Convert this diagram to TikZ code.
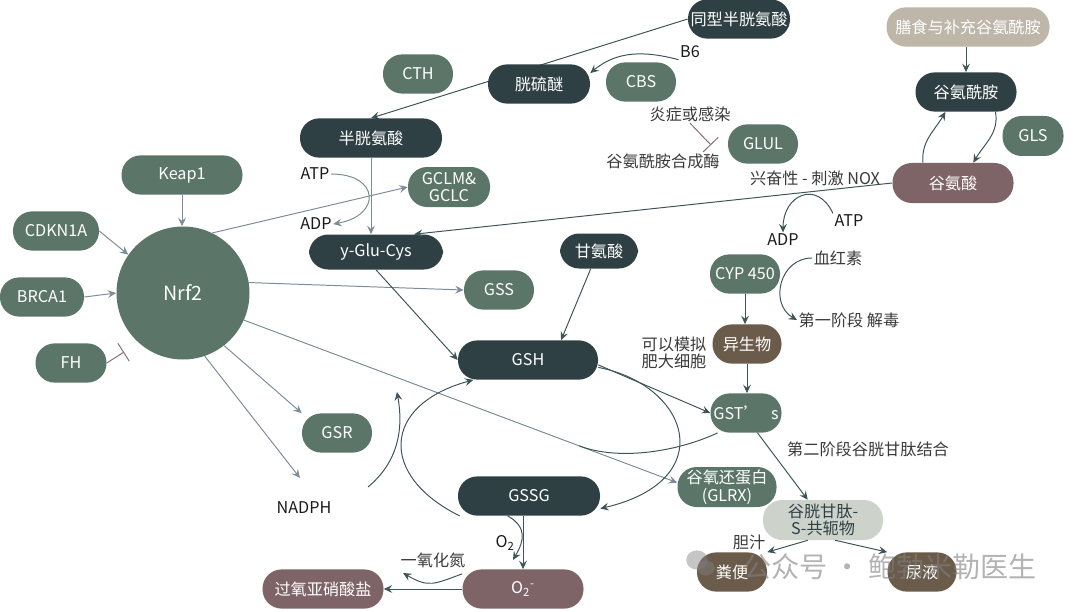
\documentclass[tikz,border=0pt]{standalone}
\usepackage{fontspec}
\setmainfont{Noto Sans CJK SC}
\usepackage{xcolor}
\usepackage{tikz}
\usetikzlibrary{
    arrows.meta,
    backgrounds,
    calc
}
\definecolor{cDark}{RGB}{47,64,69}
\definecolor{cGreen}{RGB}{91,117,104}
\definecolor{cMauve}{RGB}{126,99,103}
\definecolor{cBrown}{RGB}{107,91,75}
\definecolor{cBeige}{RGB}{189,182,169}
\definecolor{cLight}{RGB}{205,210,203}
\definecolor{cLine}{RGB}{125,140,154}
\definecolor{cFlow}{RGB}{62,84,87}
\definecolor{cSoft}{RGB}{122,143,140}
\definecolor{cInhib}{RGB}{142,108,114}
\definecolor{cInk}{RGB}{26,26,26}
\definecolor{cNote}{RGB}{58,58,58}
\newcommand{\nodefont}{\fontsize{11.5}{12.5}\selectfont}

\begin{document}
\begin{tikzpicture}[
		>={Stealth[length=6pt, width=5.5pt, inset=2.2pt]},
		pill/.style={rectangle, rounded corners=0.48cm, minimum height=0.98cm, inner sep=1pt, text=white, font=\nodefont, align=center},
		darkbox/.style={pill, fill=cDark},
		greenbox/.style={pill, fill=cGreen},
		mauvebox/.style={pill, fill=cMauve},
		brownbox/.style={pill, fill=cBrown},
		beigebox/.style={pill, fill=cBeige},
		lightbox/.style={pill, fill=cLight, text=cDark},
		lbl/.style={font=\nodefont, text=cInk, inner sep=1pt, align=center},
		note/.style={lbl, text=cNote},
		nrfline/.style={draw=cLine, line width=0.7pt, ->},
		flow/.style={draw=cFlow, line width=0.7pt, ->},
		soft/.style={draw=cSoft, line width=0.7pt, ->},
		inhib/.style={draw=cInhib, line width=0.7pt, -{Bar[width=15pt]}}
	]
		\useasboundingbox (0,0) rectangle (27,-15.275);
		\node [darkbox, minimum width=2.55cm] (hcy) at (18.475,-0.475) {同型半胱氨酸};
		\node [lbl] (b6) at (17.25,-1.3) {B6};
		\node [darkbox, minimum width=2.55cm] (cyst) at (13.475,-2.1) {胱硫醚};
		\node [greenbox, minimum width=1.75cm] (cbs) at (16.025,-2.05) {CBS};
		\node [greenbox, minimum width=1.75cm] (cth) at (10.45,-1.85) {CTH};
		\node [darkbox, minimum width=3.55cm] (cys) at (9.275,-3.45) {半胱氨酸};
		\node [lbl] (atpL) at (7.875,-4.35) {ATP};
		\node [lbl] (adpL) at (7.9,-5.6) {ADP};
		\node [greenbox, minimum width=2.05cm, minimum height=1.0cm] (gcl) at (11.225,-4.675) {GCLM\&\\GCLC};
		\node [darkbox, minimum width=3.35cm, minimum height=0.875cm] (ygc) at (9.4,-6.3) {y-Glu-Cys};
		\node [darkbox, minimum width=1.95cm, minimum height=0.875cm] (gly) at (14.975,-6.275) {甘氨酸};
		\node [greenbox, minimum width=1.75cm] (gss) at (12.475,-7.25) {GSS};
		\node [greenbox, minimum width=3.025cm] (keap1) at (4.55,-4.375) {Keap1};
		\node [greenbox, minimum width=2.15cm] (cdkn) at (1.4,-5.775) {CDKN1A};
		\node [greenbox, minimum width=2.1cm] (brca) at (1.05,-7.425) {BRCA1};
		\node [greenbox, minimum width=1.775cm] (fh) at (1.775,-9.075) {FH};
		\node [circle, fill=cGreen, minimum size=3.325cm, inner sep=0pt, text=white, font=\fontsize{14}{16}\selectfont] (nrf2) at (4.575,-7.325) {Nrf2};
		\node [greenbox, minimum width=1.75cm] (gsr) at (8.425,-10.825) {GSR};
		\node [lbl] (nadph) at (7.6,-12.7) {NADPH};
		\node [darkbox, minimum width=3.5cm] (gsh) at (13.2,-9.0) {GSH};
		\node [darkbox, minimum width=3.55cm] (gssg) at (13.225,-12.4) {GSSG};
		\node [mauvebox, minimum width=3.025cm] (o2m) at (13.075,-14.725) {O\textsubscript{2}\textsuperscript{-}};
		\node [mauvebox, minimum width=3.025cm] (onoo) at (8.075,-14.725) {过氧亚硝酸盐};
		\node [note] (no) at (10.825,-14.0) {一氧化氮};
		\node [lbl] (o2) at (12.625,-13.575) {O\textsubscript{2}};
		\node [beigebox, minimum width=4.075cm] (diet) at (24.2,-0.675) {膳食与补充谷氨酰胺};
		\node [darkbox, minimum width=2.525cm] (gln) at (24.15,-2.3) {谷氨酰胺};
		\node [greenbox, minimum width=1.525cm, minimum height=1.0cm] (gls) at (25.825,-3.4) {GLS};
		\node [mauvebox, minimum width=3.025cm, minimum height=1.0cm] (glu) at (23.825,-4.575) {谷氨酸};
		\node [greenbox, minimum width=1.75cm] (glul) at (19.075,-3.6) {GLUL};
		\node [note] (inflam) at (17.25,-2.85) {炎症或感染};
		\node [note] (gs) at (16.575,-4.025) {谷氨酰胺合成酶};
		\node [note] (nox) at (20.375,-4.45) {兴奋性 - 刺激 NOX};
		\node [lbl] (atpR) at (21.225,-5.525) {ATP};
		\node [lbl] (adpR) at (19.575,-6.0) {ADP};
		\node [greenbox, minimum width=1.75cm] (cyp) at (18.625,-6.85) {CYP 450};
		\node [note] (heme) at (20.95,-6.45) {血红素};
		\node [note] (phase1) at (21.225,-8.0) {第一阶段 解毒};
		\node [brownbox, minimum width=1.725cm] (xeno) at (18.675,-8.6) {异生物};
		\node [note] (mast) at (16.85,-8.825) {可以模拟\\肥大细胞};
		\node [greenbox, minimum width=1.775cm] (gst) at (18.65,-10.325) {GST’\hspace{0.7em}s};
		\node [note] (phase2) at (21.7,-11.225) {第二阶段谷胱甘肽结合};
		\node [greenbox, minimum width=2.475cm, minimum height=1.0cm] (glrx) at (18.175,-12.175) {谷氧还蛋白\\(GLRX)};
		\node [lightbox, minimum width=3.0cm, minimum height=1.0cm] (conj) at (20.575,-13.0) {谷胱甘肽-\\S-共轭物};
		\node [note] (bile) at (18.725,-13.55) {胆汁};
		\node [brownbox, minimum width=1.75cm] (feces) at (18.3,-14.3) {粪便};
		\node [brownbox, minimum width=1.725cm] (urine) at (23.05,-14.3) {尿液};
		\begin{scope}[on background layer]
			\draw [flow] (hcy.west) -- (cys.north);
		\end{scope}
		\draw [flow] (b6.south west) to [out=165, in=40] (cyst.12);
		\draw [soft] (atpL.east) to [out=0, in=10, looseness=2.5] (adpL.east);
		\draw [soft] (cys.south) -- (cys.south |- ygc.north);
		\draw [nrfline] (nrf2.64) -- (gcl.west);
		\draw [flow] (glu.west) -- (ygc.25);
		\draw [nrfline] (nrf2.9) -- (gss.west);
		\draw [flow] (ygc.south) -- (gsh.west);
		\draw [flow] (gly.-115) -- (gsh.31);
		\draw [nrfline] (keap1.south) -- (keap1.south |- nrf2.north);
		\draw [nrfline] (cdkn.east) -- (nrf2.145);
		\draw [nrfline] (brca.east) -- (nrf2.west);
		\coordinate (fhbar) at (3.1,-8.8);
		\draw [inhib] (fh.east) -- (fhbar);
		\draw [nrfline] (nrf2.-52) -- (gsr.north west);
		\coordinate (nadtip) at (7.5,-11.95);
		\draw [nrfline] (nrf2.-71) -- (nadtip);
		\draw [nrfline] (nrf2.-24) -- (glrx.175);
		\coordinate (merge) at ($(nrf2.-24)!0.774!(glrx.175)$);
		\draw [flow, -] (gst.215) to [out=205, in=-20.6, looseness=0.8] (merge);
		\draw [flow] (gsh.-4) -- (gst.west);
		\draw [flow] (gsh.-6) .. controls +(2.3,-0.45) and +(3.0,0.7) .. (gssg.-10);
		\draw [flow] (gssg.196) .. controls +(-2.025,1.0) and +(-2.3,-0.625) .. (gsh.200);
		\coordinate (nadA) at (9.2,-12.175);
		\coordinate (nadB) at (9.925,-9.8);
		\draw [flow] (nadA) to [out=40, in=-80] (nadB);
		\draw [flow] (o2m.north |- gssg.south) -- (o2m.north);
		\coordinate (o2tip) at (12.825,-14.0);
		\draw [flow] (gssg.223) to [out=-30, in=60, looseness=1.3] (o2tip);
		\draw [flow] (o2m.west) -- (onoo.east);
		\coordinate (notip) at (10.075,-14.325);
		\draw [flow] (o2m.166) to [out=200, in=-30, looseness=1.3] (notip);
		\draw [flow] (glu.146) to [out=95, in=240] (gln.224);
		\draw [flow] (gln.-34) to [out=-80, in=60] (glu.45);
		\draw [flow] (gln.north |- diet.south) -- (gln.north);
		\draw [flow] (atpR.north west) to [out=115, in=90, looseness=1.8] (adpR.north);
		\draw [flow] (heme.west) to [out=180, in=150, looseness=1.3] (phase1.west);
		\draw [flow] (cyp.south) -- (cyp.south |- xeno.north);
		\draw [flow] (xeno.south) -- (xeno.south |- gst.north);
		\draw [flow] (gst.-60) -- (conj.127);
		\draw [flow] (conj.-127) -- (feces.north east);
		\draw [flow] (conj.-59) -- (urine.north west);
		\coordinate (inbar) at (17.775,-3.625);
		\draw [inhib] (inflam.south) -- (inbar);
		\fill [gray, opacity=0.45] (17.425,-14.0) ellipse (0.27 and 0.24);
		\fill [gray, opacity=0.45] (17.65,-14.2) ellipse (0.22 and 0.19);
		\node [text=gray, opacity=0.6, font=\fontsize{20}{22}\selectfont] (mark) at (22.25,-14.175) {公众号 · 鲍勃米勒医生};
	\end{tikzpicture}
\end{document}
